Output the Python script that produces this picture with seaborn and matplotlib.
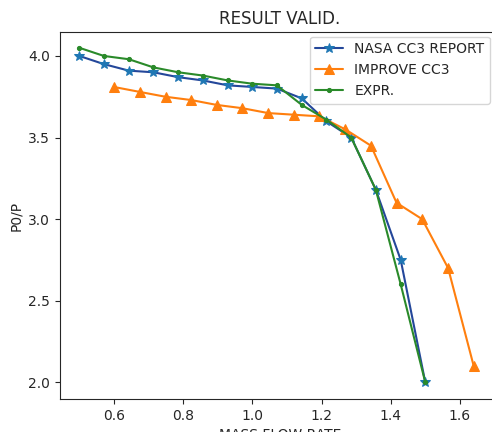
import matplotlib
matplotlib.use("Agg")
import matplotlib.pyplot as plt
import seaborn as sns

sns.set_style("ticks")
plt.rcParams['font.family'] = ['DejaVu Sans']

nasa_x = [0.5, 0.571, 0.643, 0.714, 0.786, 0.857, 0.929, 1.0, 1.071, 1.143, 1.214, 1.286, 1.357, 1.429, 1.5]
nasa_y = [4.00, 3.95, 3.91, 3.90, 3.87, 3.85, 3.82, 3.81, 3.80, 3.74, 3.60, 3.50, 3.18, 2.75, 2.00]

improve_x = [0.6, 0.674, 0.749, 0.823, 0.897, 0.971, 1.046, 1.12, 1.194, 1.269, 1.343, 1.417, 1.491, 1.566, 1.64]
improve_y = [3.81, 3.78, 3.75, 3.73, 3.70, 3.68, 3.65, 3.64, 3.63, 3.55, 3.45, 3.10, 3.00, 2.70, 2.10]

expr_x = [0.5, 0.571, 0.643, 0.714, 0.786, 0.857, 0.929, 1.0, 1.071, 1.143, 1.214, 1.286, 1.357, 1.429, 1.5]
expr_y = [4.05, 4.00, 3.98, 3.93, 3.90, 3.88, 3.85, 3.83, 3.82, 3.70, 3.61, 3.50, 3.18, 2.60, 2.00]

labels = ["NASA CC3 REPORT", "IMPROVE CC3", "EXPR."]

fig = plt.figure(figsize=(4.92, 4.32), dpi=100)
ax = fig.add_axes([60/492, 33/432, 440/492, 366.7/432])

sns.lineplot(x=nasa_x, y=nasa_y, ax=ax, color="#24479a", marker="*", markersize=7,
             markerfacecolor="#1f77b4", markeredgecolor="#1f77b4", label=labels[0], sort=False)
sns.lineplot(x=improve_x, y=improve_y, ax=ax, color="#ff7f0e", marker="^", markersize=7,
             markeredgecolor="#ff7f0e", label=labels[1], sort=False)
sns.lineplot(x=expr_x, y=expr_y, ax=ax, color="#2a8a2a", marker=".", markersize=6,
             markeredgecolor="#2a8a2a", label=labels[2], sort=False)

ax.set_xlim(0.444, 1.716)
ax.set_ylim(1.898, 4.145)
ax.set_xticks([0.6, 0.8, 1.0, 1.2, 1.4, 1.6])
ax.set_yticks([2.0, 2.5, 3.0, 3.5, 4.0])
ax.set_xlabel("MASS FLOW RATE")
ax.set_ylabel("P0/P")
ax.set_title("RESULT VALID.")
sns.despine(ax=ax, top=False, right=False)
ax.legend(loc="upper left", bbox_to_anchor=(0.568, 0.988), borderaxespad=0)

fig.savefig("out.png", dpi=100)
